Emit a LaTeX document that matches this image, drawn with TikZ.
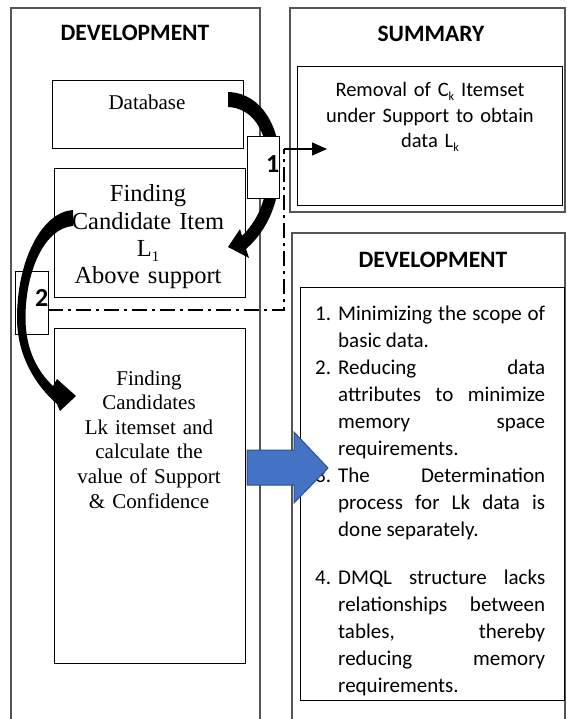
\documentclass[tikz,border=0pt]{standalone}
\usepackage{fontspec}
\usepackage{graphicx}
\setmainfont{Carlito}
\newfontfamily\tnr{Liberation Serif}
\usetikzlibrary{arrows.meta}
\definecolor{framec}{RGB}{85,85,85}
\definecolor{bluefill}{RGB}{68,114,196}
\definecolor{blueedge}{RGB}{47,82,143}
\newcommand\lsub[1]{\raisebox{-0.18em}{\scalebox{0.6}{#1}}}
\newcommand\litem[1]{\par\noindent\hangindent=23pt\hangafter=1\makebox[23pt][l]{#1}\ignorespaces}
\hbadness=10000
\begin{document}
\begin{tikzpicture}[x=1pt,y=-1pt,
  frame/.style={draw=framec, line width=1.3pt},
  ibox/.style={draw=black, line width=0.9pt, fill=white, anchor=north west, inner sep=0pt},
  title/.style={font=\fontsize{23.5}{26}\selectfont\bfseries, anchor=base, inner sep=0pt},
  txt/.style={anchor=base, inner sep=0pt, align=center},
  dd/.style={line width=1.4pt, dash pattern=on 15pt off 5pt on 3pt off 5pt},
  numlab/.style={font=\fontsize{26}{26}\selectfont\bfseries, anchor=base east, inner sep=0pt},
  blk/.style={fill=black}
]
\useasboundingbox (0,0) rectangle (566,719);
% outer frames
\draw[frame] (11,719) -- (11,8) -- (260,8) -- (260,719);
\draw[frame] (290,8) rectangle (565,212);
\draw[frame] (292,719) -- (292,233) -- (565,233) -- (565,719);
% inner boxes
\node[ibox, minimum width=191pt, minimum height=68pt] (db) at (52,80) {};
\node[ibox, minimum width=191pt, minimum height=129pt] (find1) at (54,168) {};
\node[ibox, minimum width=191pt, minimum height=335pt] (find2) at (54,328) {};
\node[ibox, minimum width=265pt, minimum height=139pt] (sumbox) at (297,66) {};
\node[ibox, minimum width=264pt, minimum height=413pt] (devbox) at (300,287) {};
% titles
\node[title] (t1) at (135,41) {DEVELOPMENT};
\node[title] (t2) at (431,42) {SUMMARY};
\node[title] (t3) at (433,267) {DEVELOPMENT};
% left texts
\node[txt, font=\tnr\fontsize{21}{24.6}\selectfont] (dbt) at (147,110) {Database};
\node[txt, text width=190pt, font=\tnr\fontsize{24.5}{27.3}\selectfont] (f1t) at (148,202)
  {Finding\\Candidate Item\\L\lsub{1}\\Above support};
\node[txt, text width=190pt, font=\tnr\fontsize{21}{24.6}\selectfont] (f2t) at (149,385)
  {Finding\\Candidates\\Lk itemset and\\calculate the\\value of Support\\\& Confidence};
% summary text
\node[txt, text width=262pt, font=\fontsize{20.5}{25.5}\selectfont] (sumt) at (430,97)
  {Removal of C\lsub{k} Itemset\\under Support to obtain\\data L\lsub{k}};
% list
\node[anchor=base west, inner sep=0pt, text width=230pt, align=justify,
      font=\fontsize{21}{27}\selectfont] (lst) at (315,293) {%
\litem{1.}Minimizing the scope of\linebreak basic data.
\litem{2.}Reducing data\linebreak attributes to minimize\linebreak memory space\linebreak requirements.
\litem{3.}The Determination\linebreak process for Lk data is\linebreak done separately.\par\vspace{21pt}
\litem{4.}DMQL structure lacks\linebreak relationships between\linebreak tables, thereby\linebreak reducing memory\linebreak requirements.\par};
% dash-dot connector
\coordinate (d0) at (48,310);
\coordinate (d1) at (284,310);
\coordinate (c1) at (284,149);
\coordinate (tipc) at (327,149);
\draw[dd] (d0) -- (d1) -- (c1);
\draw[line width=1.3pt, -{Triangle[length=15pt,width=13pt]}] (c1) -- (tipc);
% curved arrow 1
\fill[blk] (228,92) .. controls (262,93) and (281,128) .. (280,168)
  .. controls (280,200) and (268,230) .. (246,249)
  -- (249,258) -- (228,247) -- (240,229) -- (242,236)
  .. controls (258,220) and (267,200) .. (268,168)
  .. controls (268,130) and (252,108) .. (228,107) -- cycle;
\node[ibox, minimum width=32pt, minimum height=62pt] (b1) at (247,136) {};
\node[numlab] (n1) at (279.5,173) {1};
% box 2 and curved arrow 2
\node[ibox, fill=none, minimum width=33pt, minimum height=63pt] (b2) at (15,271) {};
\fill[blk] (73,210) .. controls (42,212) and (17,260) .. (17,318)
  .. controls (17,355) and (35,385) .. (57,404)
  -- (60,411) -- (76,396) -- (57,379) -- (53,386)
  .. controls (38,372) and (25.5,350) .. (25.5,318)
  .. controls (25.5,270) and (45,228) .. (73,226) -- cycle;
\node[numlab] (n2) at (48.5,306) {2};
% blue block arrow
\draw[fill=bluefill, draw=blueedge, line width=1pt] (247,450) -- (294,450) -- (294,432) -- (328,468) -- (294,503) -- (294,485) -- (247,485) -- cycle;
\end{tikzpicture}
\end{document}
